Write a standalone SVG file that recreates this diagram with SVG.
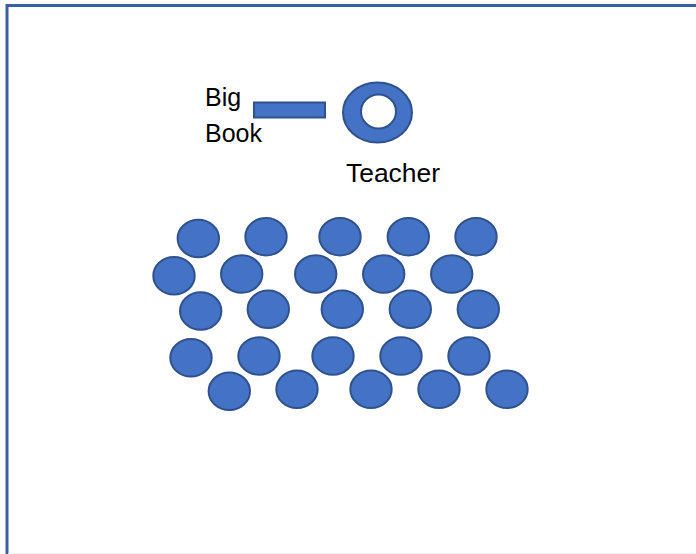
<svg xmlns="http://www.w3.org/2000/svg" width="696" height="554" viewBox="0 0 696 554">
<style>
.s{fill:#4472C4;stroke:#2F528F;stroke-width:2}
.t{font-family:"Liberation Sans",Arial,sans-serif;font-size:25px;fill:#000}
</style>
<rect x="0" y="0" width="696" height="554" fill="#fff"/>
<path d="M7 554 V5.5 H696" fill="none" stroke="#3A5FA3" stroke-width="3"/>
<line x1="8" y1="553.5" x2="696" y2="553.5" stroke="#EEEEEE" stroke-width="1"/>
<g id="bigbook">
<rect class="s" x="254" y="102.5" width="71" height="15"/>
<text class="t" x="205" y="106">Big</text>
<text class="t" x="205" y="142">Book</text>
</g>
<g id="teacher">
<path class="s" fill-rule="evenodd" d="M343 112.5 a34.5 30 0 1 0 69 0 a34.5 30 0 1 0 -69 0 Z M361 111.5 a17.5 17 0 1 1 35 0 a17.5 17 0 1 1 -35 0 Z"/>
<text class="t" x="346" y="182" textLength="94" lengthAdjust="spacingAndGlyphs">Teacher</text>
</g>
<g id="students">
<ellipse class="s" cx="198.3" cy="238.5" rx="20.7" ry="18.7"/>
<ellipse class="s" cx="266" cy="236.7" rx="20.7" ry="18.7"/>
<ellipse class="s" cx="340" cy="236.7" rx="20.7" ry="18.7"/>
<ellipse class="s" cx="408.3" cy="236.7" rx="20.7" ry="18.7"/>
<ellipse class="s" cx="476" cy="236.7" rx="20.7" ry="18.7"/>
<ellipse class="s" cx="174" cy="275.7" rx="20.7" ry="18.7"/>
<ellipse class="s" cx="241.7" cy="274" rx="20.7" ry="18.7"/>
<ellipse class="s" cx="315.7" cy="274" rx="20.7" ry="18.7"/>
<ellipse class="s" cx="383.7" cy="274" rx="20.7" ry="18.7"/>
<ellipse class="s" cx="451.7" cy="274" rx="20.7" ry="18.7"/>
<ellipse class="s" cx="200.7" cy="311" rx="20.7" ry="18.7"/>
<ellipse class="s" cx="268.3" cy="309.3" rx="20.7" ry="18.7"/>
<ellipse class="s" cx="342.3" cy="309.3" rx="20.7" ry="18.7"/>
<ellipse class="s" cx="410.3" cy="309.3" rx="20.7" ry="18.7"/>
<ellipse class="s" cx="478.3" cy="309.3" rx="20.7" ry="18.7"/>
<ellipse class="s" cx="191" cy="357.7" rx="20.7" ry="18.7"/>
<ellipse class="s" cx="259" cy="356" rx="20.7" ry="18.7"/>
<ellipse class="s" cx="333" cy="356" rx="20.7" ry="18.7"/>
<ellipse class="s" cx="401" cy="356" rx="20.7" ry="18.7"/>
<ellipse class="s" cx="469" cy="356" rx="20.7" ry="18.7"/>
<ellipse class="s" cx="229.3" cy="391.3" rx="20.7" ry="18.7"/>
<ellipse class="s" cx="297" cy="389.3" rx="20.7" ry="18.7"/>
<ellipse class="s" cx="371" cy="389.3" rx="20.7" ry="18.7"/>
<ellipse class="s" cx="439" cy="389.3" rx="20.7" ry="18.7"/>
<ellipse class="s" cx="507" cy="389.3" rx="20.7" ry="18.7"/>
</g>
</svg>
